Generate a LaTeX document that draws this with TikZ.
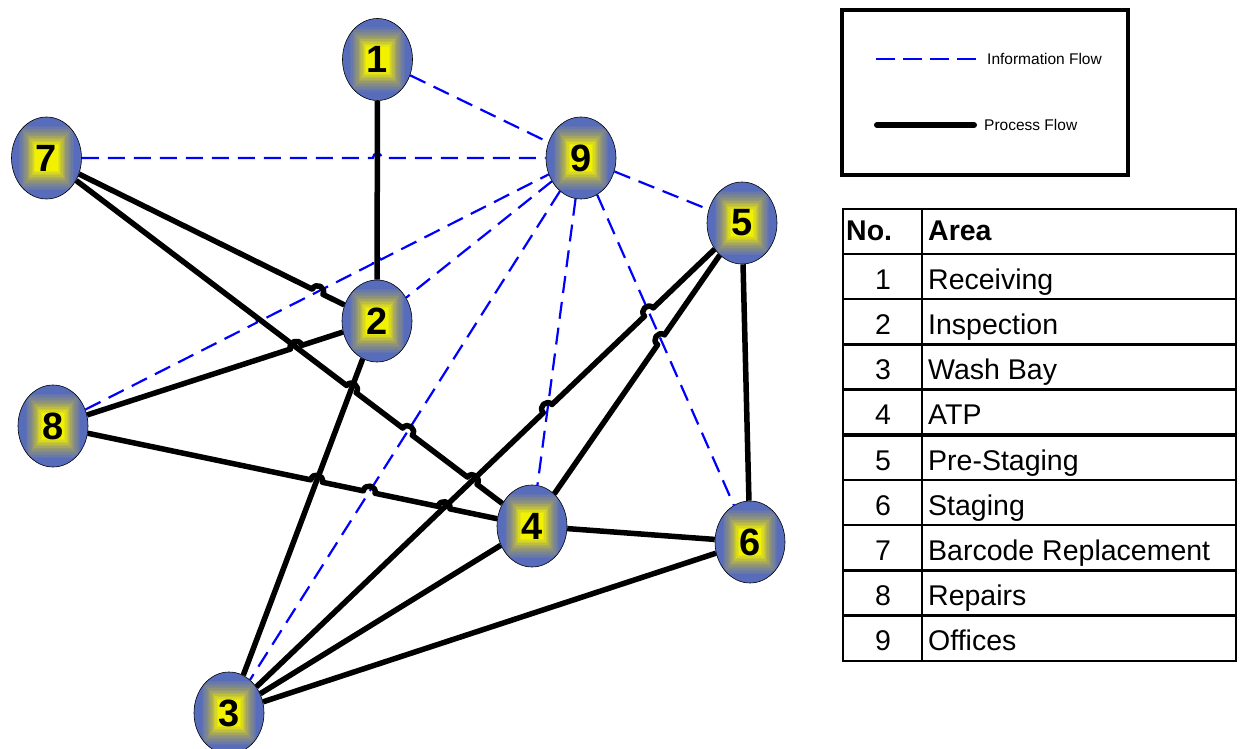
\documentclass[tikz,border=0pt]{standalone}
\usepackage{fontspec}
\setmainfont{Liberation Sans}
\usetikzlibrary{shapes.geometric,calc}
\pgfdeclarelayer{bg}
\pgfsetlayers{bg,main}
\definecolor{ny}{RGB}{242,242,0}
\definecolor{nm}{RGB}{150,152,112}
\definecolor{nb}{RGB}{88,108,188}
\def\hopr{6pt}
\newcommand\mkhop[5]{%
  \coordinate (#1) at (intersection of #2.center--#3.center and #4.center--#5.center);
  \coordinate (#1s) at ($(#1)!\hopr!(#2.center)$);
  \coordinate (#1e) at ($(#1)!\hopr!(#3.center)$);
  \coordinate (#1a) at ($(#1s)!{1.333*\hopr}!90:(#1e)$);
  \coordinate (#1b) at ($(#1e)!{1.333*\hopr}!-90:(#1s)$);
}
\tikzset{
  areanode/.style={ellipse, draw=black, line width=0.6pt, minimum width=70pt,
    minimum height=82pt, inner sep=0pt, fill=nb,
    font=\fontsize{38}{38}\selectfont\bfseries,
    path picture={
      \foreach \k in {0,...,7}{
        \pgfmathsetmacro\hsc{0.82-0.036*\k}
        \pgfmathsetmacro\hmx{100-100*\k/7}
        \fill[nb!\hmx!nm] ($(path picture bounding box.center)+(-35*\hsc,-41*\hsc)$)
          rectangle ($(path picture bounding box.center)+(35*\hsc,41*\hsc)$);
      }
      \foreach \k in {8,...,17}{
        \pgfmathsetmacro\hsc{0.82-0.036*\k}
        \pgfmathsetmacro\hmx{max(0,100-100*(\k-7)/7)}
        \fill[nm!\hmx!ny] ($(path picture bounding box.center)+(-35*\hsc,-41*\hsc)$)
          rectangle ($(path picture bounding box.center)+(35*\hsc,41*\hsc)$);
      }
    }},
  info/.style={draw=blue, line width=2.2pt, dash pattern=on 17pt off 9pt},
  proc/.style={draw=black, line width=5.5pt, line join=round},
  legtext/.style={inner sep=0pt, font=\fontsize{15.5}{18}\selectfont},
  tabtext/.style={inner sep=0pt, font=\fontsize{28.5}{30}\selectfont},
}
\begin{document}
\begin{tikzpicture}[x=1pt,y=-1pt]
\useasboundingbox (0,0) rectangle (1240,749);

% nodes
\node[areanode] (n1) at (377.5,59.5) {1};
\node[areanode] (n7) at (46.5,158) {7};
\node[areanode] (n9) at (581,158) {9};
\node[areanode] (n5) at (742,223) {5};
\node[areanode] (n2) at (377,321) {2};
\node[areanode] (n8) at (53,426) {8};
\node[areanode] (n4) at (532,526) {4};
\node[areanode] (n6) at (750,542) {6};
\node[areanode] (n3) at (229,713) {3};

% hops on dashed lines
\def\hopr{4.5pt}
\mkhop{hA}{n7}{n9}{n1}{n2}
\mkhop{hB}{n8}{n9}{n7}{n4}
\mkhop{hC}{n8}{n9}{n1}{n2}
% hops on process lines
\def\hopr{6pt}
\mkhop{hD}{n7}{n2}{n9}{n8}
\mkhop{hE}{n8}{n2}{n7}{n4}
\mkhop{hF}{n7}{n4}{n2}{n3}
\mkhop{hG}{n7}{n4}{n9}{n3}
\mkhop{hH}{n7}{n4}{n3}{n5}
\mkhop{hI}{n8}{n4}{n2}{n3}
\mkhop{hJ}{n8}{n4}{n9}{n3}
\mkhop{hK}{n8}{n4}{n3}{n5}
\mkhop{hL}{n3}{n5}{n9}{n4}
\mkhop{hM}{n3}{n5}{n9}{n6}
\mkhop{hN}{n4}{n5}{n9}{n6}

\begin{pgfonlayer}{bg}
% information flow
\draw[info] (n1) -- (n9);
\draw[info] (n7) -- (hAs) .. controls (hAa) and (hAb) .. (hAe) -- (n9);
\draw[info] (n9) -- (n5);
\draw[info] (n9) -- (n2);
\draw[info] (n8) -- (hBs) .. controls (hBa) and (hBb) .. (hBe)
  -- (hCs) .. controls (hCa) and (hCb) .. (hCe) -- (n9);
\draw[info] (n9) -- (n3);
\draw[info] (n9) -- (n4);
\draw[info] (n9) -- (n6);
% process flow
\draw[proc] (n1) -- (n2);
\draw[proc] (n7) -- (hDs) .. controls (hDa) and (hDb) .. (hDe) -- (n2);
\draw[proc] (n8) -- (hEs) .. controls (hEa) and (hEb) .. (hEe) -- (n2);
\draw[proc] (n7) -- (hFs) .. controls (hFa) and (hFb) .. (hFe)
  -- (hGs) .. controls (hGa) and (hGb) .. (hGe)
  -- (hHs) .. controls (hHa) and (hHb) .. (hHe) -- (n4);
\draw[proc] (n2) -- (n3);
\draw[proc] (n8) -- (hIs) .. controls (hIa) and (hIb) .. (hIe)
  -- (hJs) .. controls (hJa) and (hJb) .. (hJe)
  -- (hKs) .. controls (hKa) and (hKb) .. (hKe) -- (n4);
\draw[proc] (n3) -- (hLs) .. controls (hLa) and (hLb) .. (hLe)
  -- (hMs) .. controls (hMa) and (hMb) .. (hMe) -- (n5);
\draw[proc] (n4) -- (hNs) .. controls (hNa) and (hNb) .. (hNe) -- (n5);
\draw[proc] (n5) -- (n6);
\draw[proc] (n4) -- (n6);
\draw[proc] (n3) -- (n4);
\draw[proc] (n3) -- (n6);
\end{pgfonlayer}

% legend
\draw[line width=4pt] (842,10) rectangle (1128,175);
\coordinate (liA) at (876,59);
\coordinate (liB) at (978,59);
\draw[info, dash pattern=on 19pt off 8pt] (liA) -- (liB);
\node[legtext, anchor=west] (lit) at (987,59) {Information Flow};
\coordinate (lpA) at (877,125);
\coordinate (lpB) at (974,125);
\draw[proc, line width=6pt, line cap=round] (lpA) -- (lpB);
\node[legtext, anchor=west] (lpt) at (984,125) {Process Flow};

% table
\draw[line width=2.8pt] (843,209) rectangle (1236,661);
\foreach \yy in {254,299.2,344.4,389.6,480,525.2,570.4,615.6}
  \draw[line width=2.4pt] (843,\yy) -- (1236,\yy);
\draw[line width=3.4pt] (843,434.8) -- (1236,434.8);
\draw[line width=2.6pt] (922,209) -- (922,661);
\node[tabtext, anchor=base west] (th1) at (846,240) {\bfseries No.};
\node[tabtext, anchor=base west] (th2) at (928,240) {\bfseries Area};
\foreach \n/\t/\yb in {1/Receiving/289, 2/Inspection/334, 3/Wash Bay/379.6,
    4/ATP/424.8, 5/Pre-Staging/470, 6/Staging/515.2,
    7/Barcode Replacement/560.4, 8/Repairs/605.6, 9/Offices/650.8}{
  \node[tabtext, anchor=base] (tn\n) at (883,\yb) {\n};
  \node[tabtext, anchor=base west] (tt\n) at (928,\yb) {\t};
}
\end{tikzpicture}
\end{document}
